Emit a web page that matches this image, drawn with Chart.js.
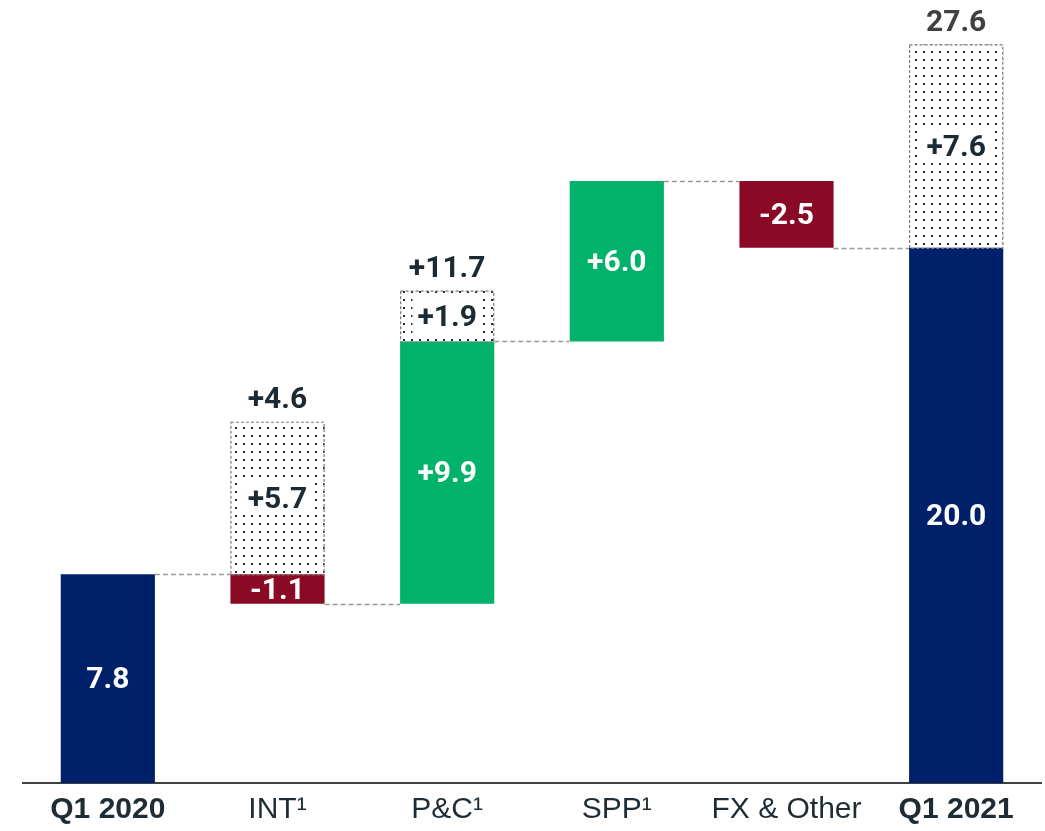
<!DOCTYPE html>
<html>
<head>
<meta charset="utf-8">
<script src="https://cdn.jsdelivr.net/npm/chart.js@4/dist/chart.umd.min.js"></script>
<style>
html,body{margin:0;padding:0;background:#fff;}
#wrap{width:1045px;height:831px;position:relative;}
</style>
</head>
<body>
<div id="wrap"><canvas id="c"></canvas></div>
<script>
const categories = ['Q1 2020', 'INT\u00b9', 'P&C\u00b9', 'SPP\u00b9', 'FX & Other', 'Q1 2021'];
const barStart = [0, 7.8, 6.7, 16.5, 22.5, 0];
const barEnd = [7.8, 6.7, 16.5, 22.5, 20.0, 20.0];
const barLabels = ['7.8', '-1.1', '+9.9', '+6.0', '-2.5', '20.0'];
const barKinds = ['total', 'neg', 'pos', 'pos', 'neg', 'total'];
const dottedStart = [null, 7.8, 16.5, null, null, 20.0];
const dottedEnd = [null, 13.5, 18.4, null, null, 27.6];
const dottedLabels = ['', '+5.7', '+1.9', '', '', '+7.6'];
const topLabels = ['', '+4.6', '+11.7', '', '', '27.6'];
const connectorLevels = [7.8, 6.7, 16.5, 22.5, 20.0];

const kindColor = {total: '#00216a', pos: '#00b26a', neg: '#8a0a25'};

function makePattern() {
  const p = document.createElement('canvas');
  p.width = 8; p.height = 8;
  const g = p.getContext('2d');
  g.fillStyle = '#ffffff';
  g.fillRect(0, 0, 8, 8);
  g.fillStyle = '#2a2a2a';
  g.fillRect(3, 3, 2, 2);
  return document.getElementById('c').getContext('2d').createPattern(p, 'repeat');
}
const dotPattern = makePattern();

const mainData = barStart.map((s, i) => [s, barEnd[i]]);
const dotData = dottedStart.map((s, i) => s === null ? null : [s, dottedEnd[i]]);

const overlay = {
  id: 'overlay',
  afterDatasetsDraw(chart) {
    const ctx = chart.ctx;
    const y = chart.scales.y;
    const mainMeta = chart.getDatasetMeta(1);
    const dotMeta = chart.getDatasetMeta(0);
    ctx.save();
    ctx.strokeStyle = '#7a7a7a';
    ctx.lineWidth = 1.2;
    ctx.setLineDash([3, 2]);
    dotMeta.data.forEach((el, i) => {
      if (dotData[i] === null) return;
      const top = y.getPixelForValue(dottedEnd[i]);
      const bot = y.getPixelForValue(dottedStart[i]);
      ctx.strokeRect(el.x - el.width / 2 + 0.5, top + 0.5, el.width - 1, bot - top);
    });
    ctx.strokeStyle = '#9a9a9a';
    ctx.lineWidth = 1.5;
    ctx.setLineDash([5, 3]);
    connectorLevels.forEach((lv, i) => {
      const a = mainMeta.data[i], b = mainMeta.data[i + 1];
      const py = Math.round(y.getPixelForValue(lv)) + 0.5;
      ctx.beginPath();
      ctx.moveTo(a.x + a.width / 2, py);
      ctx.lineTo(b.x - b.width / 2, py);
      ctx.stroke();
    });
    ctx.setLineDash([]);
    ctx.textAlign = 'center';
    ctx.textBaseline = 'middle';
    ctx.font = 'bold 30px Roboto, "Liberation Sans", sans-serif';
    mainMeta.data.forEach((el, i) => {
      const cy = (y.getPixelForValue(barStart[i]) + y.getPixelForValue(barEnd[i])) / 2;
      ctx.fillStyle = '#ffffff';
      ctx.fillText(barLabels[i], el.x, cy + 2);
    });
    dotMeta.data.forEach((el, i) => {
      if (dotData[i] === null) return;
      const top = y.getPixelForValue(dottedEnd[i]);
      const bot = y.getPixelForValue(dottedStart[i]);
      const cy = (top + bot) / 2;
      const w = ctx.measureText(dottedLabels[i]).width + 10;
      ctx.fillStyle = '#ffffff';
      ctx.fillRect(el.x - w / 2, cy - 17, w, 34);
      ctx.fillStyle = '#1b2a33';
      ctx.fillText(dottedLabels[i], el.x, cy + 2);
      ctx.fillStyle = i === 5 ? '#404040' : '#1b2a33';
      ctx.fillText(topLabels[i], el.x, top - 21);
    });
    ctx.restore();
  }
};

new Chart(document.getElementById('c'), {
  type: 'bar',
  data: {
    labels: categories,
    datasets: [
      {
        data: dotData,
        backgroundColor: dotPattern,
        borderWidth: 0,
        grouped: false,
        order: 2,
        barPercentage: 0.555,
        categoryPercentage: 1
      },
      {
        data: mainData,
        backgroundColor: barKinds.map(k => kindColor[k]),
        borderWidth: 0,
        grouped: false,
        order: 1,
        barPercentage: 0.555,
        categoryPercentage: 1
      }
    ]
  },
  options: {
    responsive: true,
    maintainAspectRatio: false,
    animation: false,
    layout: {padding: {left: 23, right: 4, top: 7, bottom: 5}},
    plugins: {legend: {display: false}, tooltip: {enabled: false}},
    scales: {
      y: {display: false, min: 0, max: 29},
      x: {
        grid: {display: false, drawTicks: false},
        border: {display: true, color: '#404040', width: 2},
        afterFit: (scale) => { scale.height -= 11; },
        ticks: {
          padding: 9,
          color: '#1e2d35',
          font: (ctx) => ({
            family: '"Liberation Sans", Arial, sans-serif',
            size: 30,
            weight: (ctx.index === 0 || ctx.index === 5) ? 'bold' : 'normal'
          })
        }
      }
    }
  },
  plugins: [overlay]
});
</script>
</body>
</html>
